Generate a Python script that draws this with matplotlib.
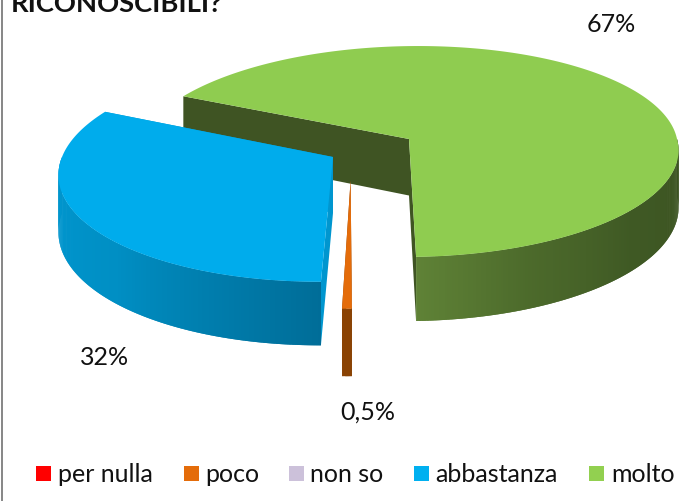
import numpy as np
import matplotlib.pyplot as plt
from matplotlib.colors import to_rgb
from matplotlib.patches import Polygon, Rectangle

plt.rcParams['font.family'] = ['Lato', 'DejaVu Sans']

categories = ['per nulla', 'poco', 'non so', 'abbastanza', 'molto']
values = [0, 0.5, 0, 32, 67]
value_labels = ['', '0,5%', '', '32%', '67%']
title_text = 'RICONOSCIBILI?'

legend_colors = {'per nulla': '#FF0000', 'poco': '#E46C0A', 'non so': '#CCC1DA',
                 'abbastanza': '#00B0F0', 'molto': '#92D050'}
# the slices' top faces render a touch darker than their legend keys
top_colors = {'poco': '#E46C0A', 'abbastanza': '#00ACEC', 'molto': '#8FCC50'}

# slice placement in pixels: apex x, apex y, rx, ry, wall height, front shear, back shear
placement = {
    'molto': (409, 140, 268, 104, 56.5, -0.03, -0.1),
    'abbastanza': (333, 158, 271, 110, 56, -0.105, -0.1),
    'poco': (350.6, 181.5, 275, 113, 59.5, -0.075, 0.0),
}
# wall shading along the arc: (fraction, colour)
wall_stops = {
    'molto': [(0, '#5F8236'), (0.25, '#4C6A2B'), (0.55, '#3F5924'), (1, '#3C5322')],
    'abbastanza': [(0, '#0098D2'), (0.5, '#008FC4'), (1, '#006D98')],
    'poco': [(0, '#8A4304'), (1, '#8A4304')],
}
inner_colors = {'molto': '#3F5423', 'abbastanza': '#0096CF', 'poco': '#8A4304'}
label_pos = {'molto': (611, 24), 'abbastanza': (105, 358), 'poco': (368, 412)}

PERSPECTIVE = 0.1186
START_ANGLE = -88.0


def project(name, angle, lower=False):
    cx, cy, rx, ry, wall, front, back = placement[name]
    t = np.radians(angle)
    s = 1 / (1 + PERSPECTIVE * np.sin(t))
    dy = -ry * np.sin(t) * s
    shear = front if dy > 0 else back
    y = cy + dy
    if lower:
        y += wall * s
    return cx + rx * np.cos(t) * s + shear * dy, y


def wall_color(name, frac):
    stops = wall_stops[name]
    fr = [a for a, _ in stops]
    rgb = np.array([to_rgb(c) for _, c in stops])
    return [np.interp(frac, fr, rgb[:, i]) for i in range(3)]


def slice_ranges():
    total = sum(values)
    out = {}
    a = START_ANGLE
    for name, v in zip(categories[::-1], values[::-1]):
        if v > 0:
            out[name] = (a, a + v / total * 360)
            a = a + v / total * 360
    return out


fig = plt.figure(figsize=(6.88, 5.02), dpi=100)
ax = fig.add_axes([0, 0, 1, 1])
ax.set_xlim(0, 688)
ax.set_ylim(502, 0)
ax.axis('off')

ranges = slice_ranges()

for name in ['molto', 'abbastanza', 'poco']:
    a0, a1 = ranges[name]
    cx, cy, rx, ry, wall = placement[name][:5]
    z = {'molto': 1, 'abbastanza': 4, 'poco': 3}[name]

    # cut faces seen from inside the pie
    for edge in (a0, a1):
        ax.add_patch(Polygon([(cx, cy), (cx, cy + wall), project(name, edge, True), project(name, edge)],
                             closed=True, fc=inner_colors[name], ec='none', zorder=z))

    # curved outer wall, only the part facing the viewer
    if name == 'molto':
        lo, hi = a0, min(a1, 0)
    else:
        lo, hi = max(a0, 180), min(a1, 360)
    steps = max(int((hi - lo) * 2), 2)
    grid = np.linspace(lo, hi, steps + 1)
    for i in range(steps):
        # each quad overlaps the next one so no seams show
        g1 = grid[min(i + 2, steps)]
        quad = [project(name, grid[i]), project(name, g1),
                project(name, g1, True), project(name, grid[i], True)]
        ax.add_patch(Polygon(quad, closed=True, fc=wall_color(name, i / steps), ec='none', zorder=z + 0.1))

    # top face
    arc = np.linspace(a0, a1, 200)
    pts = [(cx, cy)] + [project(name, a) for a in arc]
    ax.add_patch(Polygon(pts, closed=True, fc=top_colors[name], ec='none', zorder=z + 0.2))

for name, lab in zip(categories, value_labels):
    if lab:
        x, y = label_pos[name]
        ax.text(x, y, lab, ha='center', va='center', fontsize=18, color='#111111', zorder=6)

ax.text(11, 12, title_text, ha='left', va='baseline', fontsize=19.7, fontweight='bold',
        color='#111111', clip_on=True)

# legend
legend_box_x = [36, 184, 289, 414, 589]
legend_text_x = [58, 205, 310, 435, 611]
for name, bx, tx in zip(categories, legend_box_x, legend_text_x):
    ax.add_patch(Rectangle((bx, 467), 15, 15, fc=legend_colors[name], ec='none'))
    ax.text(tx, 475, name, ha='left', va='center', fontsize=18, color='#111111')

# chart frame
ax.plot([1.8, 1.8], [0, 502], color='#868686', lw=1.4, zorder=7)

fig.savefig('out.png', dpi=100)
